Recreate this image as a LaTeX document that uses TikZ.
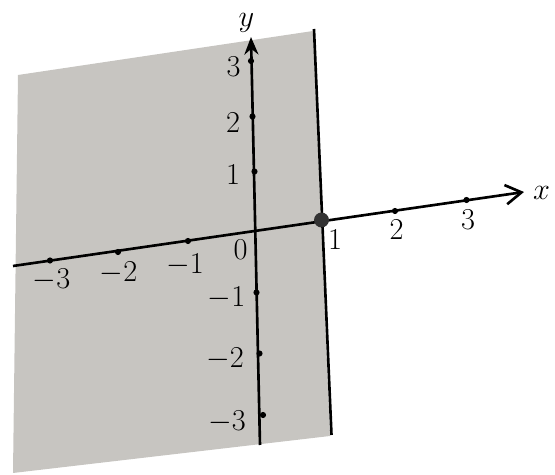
\documentclass[tikz,border=0pt]{standalone}
\usepackage{xcolor}
\definecolor{regiongray}{RGB}{199,197,193}
\usepackage{tikz}
\usetikzlibrary{arrows.meta}

\begin{document}
\begin{tikzpicture}[
  axisline/.style={line width=1.5pt, black},
  tickdot/.style={circle, fill=black, inner sep=0pt, minimum size=3.5pt},
  numlab/.style={font=\fontsize{18}{21}\selectfont, inner sep=0pt}]

\useasboundingbox (-5.12,4.6) rectangle (5.98,-4.9);

% Shaded half-plane
\fill[regiongray] (-4.76,3.1) -- (1.14,3.98) -- (1.48,-4.12) -- (-4.86,-4.86) -- cycle;

% Boundary line
\coordinate (btop) at (1.16,4.02);
\coordinate (bbot) at (1.51,-4.1);
\draw[axisline] (btop) -- (bbot);

% Axes
\coordinate (xstart) at (-4.86,-0.72);
\coordinate (xend) at (5.36,0.76);
\coordinate (ystart) at (0.08,-4.3);
\coordinate (yend) at (-0.1,3.86);
\draw[axisline, -{Straight Barb[length=9pt,width=11pt]}] (xstart) -- (xend);
\draw[axisline, -{Stealth[length=10pt,width=8pt]}] (ystart) -- (yend);

\node[numlab] (xlab) at (5.71,0.75) {$x$};
\node[numlab] (ylab) at (-0.19,4.15) {$y$};

% Ticks on the x-axis
\foreach \n/\t/\a/\b/\c/\d in {m3/-3/-4.12/-0.61/-4.09/-0.99, m2/-2/-2.76/-0.44/-2.75/-0.85,
    m1/-1/-1.36/-0.22/-1.42/-0.70, p2/2/2.78/0.38/2.81/0.0, p3/3/4.21/0.6/4.24/0.2} {
  \node[tickdot] (xt\n) at (\a,\b) {};
  \node[numlab] (xl\n) at (\c,\d) {$\t$};
}

% Ticks on the y-axis
\foreach \n/\t/\a/\b/\c/\d in {p3/3/-0.1/3.38/-0.45/3.27, p2/2/-0.07/2.27/-0.46/2.14,
    p1/1/-0.03/1.17/-0.46/1.1, m1/-1/0.01/-1.25/-0.59/-1.35,
    m2/-2/0.07/-2.47/-0.62/-2.57, m3/-3/0.14/-3.7/-0.58/-3.84} {
  \node[tickdot] (yt\n) at (\a,\b) {};
  \node[numlab] (yl\n) at (\c,\d) {$\t$};
}

% Origin and boundary point
\node[numlab] (zero) at (-0.31,-0.4) {$0$};
\node[circle, fill=black!80, inner sep=0pt, minimum size=8.5pt] (bdot) at (1.31,0.2) {};
\node[numlab] (one) at (1.58,-0.2) {$1$};

\end{tikzpicture}
\end{document}
